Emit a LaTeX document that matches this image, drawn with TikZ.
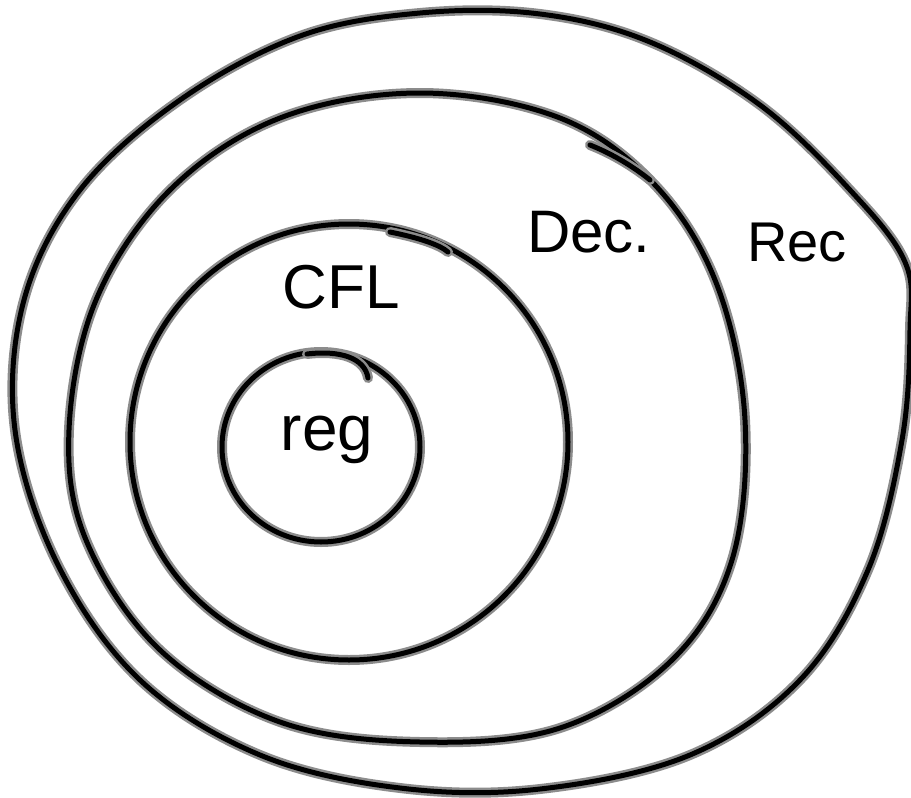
\documentclass[tikz,border=0pt]{standalone}
\usepackage{fontspec}
\setmainfont{Liberation Sans}
\begin{document}
\begin{tikzpicture}[x=1pt,y=-1pt,
  pen/.style={line width=10pt,draw=black!45,line cap=round,line join=round,
    postaction={draw=black,line width=5pt,line cap=round,line join=round}},
  lbl/.style={text=black,inner sep=0pt}]
\useasboundingbox (0,0) rectangle (911,798);
% outer set: Rec
\draw[pen] plot[smooth cycle,tension=0.6] coordinates {
 (420,13) (540,14) (650,42) (760,105) (850,190) (905,262) (910,330)
 (902,440) (868,570) (800,680) (690,755) (540,789) (400,788) (260,755)
 (140,680) (58,565) (15,430) (24,300) (80,190) (180,100) (300,36)};
% Dec
\draw[pen] plot[smooth cycle,tension=0.6] coordinates {
 (420,93) (560,118) (655,185) (717,285) (745,420) (732,560) (672,660)
 (560,728) (420,742) (280,722) (160,650) (86,540) (69,430) (96,300)
 (170,190) (280,118)};
\draw[pen] (590,145) .. controls (615,155) and (635,168) .. (650,180);
% CFL
\draw[pen] (349,442) ellipse [x radius=219,y radius=218];
\draw[pen] (390,232) .. controls (420,238) and (440,245) .. (448,252);
% reg
\draw[pen] (321,447) ellipse [x radius=99,y radius=95];
\draw[pen] (307,354) .. controls (340,350) and (365,358) .. (368,378);
% labels
\node[lbl,font=\fontsize{62}{62}\selectfont] (cfl) at (341,287) {CFL};
\node[lbl,font=\fontsize{60}{60}\selectfont] (dec) at (589,232) {Dec.};
\node[lbl,font=\fontsize{56}{56}\selectfont] (rec) at (797,243) {Rec};
\node[lbl,font=\fontsize{64}{64}\selectfont] (reg) at (327,440) {reg};
\end{tikzpicture}
\end{document}
